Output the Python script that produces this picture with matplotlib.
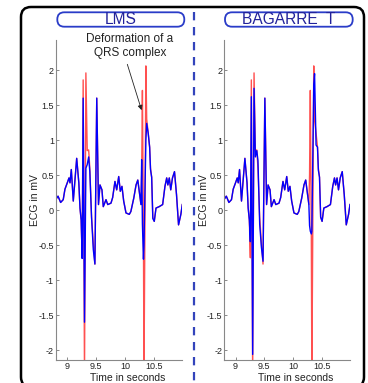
import matplotlib
matplotlib.use('Agg')
import matplotlib.pyplot as plt
from matplotlib.patches import FancyBboxPatch
from matplotlib.lines import Line2D
from matplotlib.transforms import IdentityTransform

plt.rcParams['font.family'] = ['Liberation Sans', 'DejaVu Sans']

# ECG excerpt, values (seconds, mV)
time_s = [8.80, 8.84, 8.885, 8.93, 8.96, 9.00, 9.03, 9.047, 9.07, 9.104,
          9.163, 9.20, 9.22, 9.24, 9.258, 9.275, 9.298, 9.322, 9.345, 9.37,
          9.39, 9.42, 9.45, 9.478, 9.51, 9.54, 9.566, 9.60, 9.623, 9.67,
          9.70, 9.756, 9.785, 9.825, 9.855, 9.89, 9.917, 9.946, 9.976, 10.016,
          10.073, 10.10, 10.15, 10.19, 10.22, 10.245, 10.275, 10.287, 10.30, 10.318,
          10.327, 10.36, 10.374, 10.40, 10.425, 10.44, 10.46, 10.48, 10.505, 10.535,
          10.59, 10.65, 10.69, 10.72, 10.74, 10.765, 10.79, 10.82, 10.855, 10.89,
          10.925, 10.965, 10.99]

# reference (red)
ecg_ref = [0.15, 0.20, 0.11, 0.15, 0.30, 0.39, 0.46, 0.39, 0.58, 0.13,
           0.74, 0.39, 0.03, -0.14, -0.68, 1.86, -2.40, 1.96, 0.85, 0.86,
           0.60, -0.10, -0.47, -0.77, 1.60, 0.08, 0.36, 0.29, 0.05, 0.15,
           0.08, 0.10, 0.18, 0.41, 0.29, 0.48, 0.27, 0.34, 0.13, -0.04,
           -0.06, -0.02, 0.17, 0.36, 0.43, 0.27, 0.08, 0.50, 1.71, -0.40,
           -2.40, 2.06, 1.30, 1.10, 0.90, 0.60, 0.47, -0.10, -0.16, 0.03,
           0.05, 0.08, 0.34, 0.46, 0.36, 0.46, 0.29, 0.46, 0.55, 0.22,
           -0.21, -0.06, 0.08]

# LMS output (blue, left)
ecg_lms = [0.15, 0.20, 0.11, 0.15, 0.30, 0.39, 0.46, 0.39, 0.58, 0.13,
           0.74, 0.39, 0.03, -0.14, -0.69, 1.60, -1.60, 0.60, 0.65, 0.76,
           0.55, -0.10, -0.56, -0.77, 1.60, 0.08, 0.36, 0.29, 0.05, 0.15,
           0.08, 0.10, 0.18, 0.41, 0.29, 0.48, 0.27, 0.34, 0.13, -0.04,
           -0.06, -0.02, 0.17, 0.36, 0.43, 0.27, 0.08, 0.72, -0.20, -0.70,
           -0.50, 1.00, 1.24, 1.10, 0.90, 0.58, 0.47, -0.12, -0.16, 0.03,
           0.05, 0.08, 0.34, 0.46, 0.36, 0.46, 0.29, 0.46, 0.55, 0.22,
           -0.21, -0.06, 0.08]

# BAGARRE T output (blue, right)
ecg_bagarre = [0.15, 0.20, 0.11, 0.15, 0.30, 0.39, 0.46, 0.39, 0.58, 0.13,
               0.74, 0.39, 0.03, -0.14, -0.45, 1.62, -2.06, 1.74, 0.76, 0.85,
               0.71, -0.20, -0.53, -0.73, 1.60, 0.08, 0.36, 0.29, 0.05, 0.15,
               0.08, 0.10, 0.18, 0.41, 0.29, 0.48, 0.27, 0.34, 0.13, -0.04,
               -0.06, -0.02, 0.17, 0.36, 0.43, 0.27, 0.08, -0.22, -0.30, -0.34,
               -0.30, 1.80, 1.95, 0.93, 0.90, 0.57, 0.47, -0.10, -0.16, 0.03,
               0.05, 0.08, 0.34, 0.46, 0.36, 0.46, 0.29, 0.46, 0.55, 0.22,
               -0.21, -0.06, 0.08]

titles = ['LMS', 'BAGARRE  T']
yticks = [-2, -1.5, -1, -0.5, 0, 0.5, 1, 1.5, 2]
xticks = [9, 9.5, 10, 10.5]

W, H = 368, 383
fig = plt.figure(figsize=(W / 100, H / 100), dpi=100)


def rect(x0, y0, x1, y1):
    return [x0 / W, 1 - y1 / H, (x1 - x0) / W, (y1 - y0) / H]


ax1 = fig.add_axes(rect(56, 40, 182.3, 360))
ax2 = fig.add_axes(rect(224.3, 40, 350, 360))

for ax, out in [(ax1, ecg_lms), (ax2, ecg_bagarre)]:
    ax.plot(time_s, ecg_ref, color='#ff5050', lw=1.0)
    ax.plot(time_s, out, color='#0000ff', lw=1.0)
    ax.set_xlim(8.805, 10.99)
    ax.set_ylim(-2.14, 2.43)
    for s in ['top', 'right']:
        ax.spines[s].set_visible(False)
    for s in ['left', 'bottom']:
        ax.spines[s].set_color('#888888')
        ax.spines[s].set_linewidth(0.8)
    ax.set_yticks(yticks)
    ax.set_yticklabels([f'{v:g}' for v in yticks])
    ax.set_xticks(xticks)
    ax.set_xticklabels([f'{v:g}' for v in xticks])
    ax.tick_params(direction='in', length=2.5, width=0.6, colors='#777777',
                   labelcolor='#222222', labelsize=6.5, pad=1.5)
    ax.set_ylabel('ECG in mV', fontsize=7.5, color='#222222')
    ax.yaxis.set_label_coords(-0.125, 0.5)
    ax.set_xlabel('Time in seconds', fontsize=7.5, color='#222222')
    ax.xaxis.set_label_coords(0.57, -0.04)

ax1.annotate('Deformation of a\nQRS complex', xy=(10.30, 1.39),
             xytext=(130, H - 46), textcoords='figure pixels',
             ha='center', va='center', fontsize=8.5, color='#222222',
             arrowprops=dict(arrowstyle='-|>', color='#222222', lw=0.6,
                             mutation_scale=7, relpos=(0.45, 0.0)))

# outer frame
frame = FancyBboxPatch((21, -4), 343, H - 7 + 4,
                       boxstyle='round,pad=0,rounding_size=10',
                       transform=IdentityTransform(), facecolor='none',
                       edgecolor='black', lw=1.8)
fig.add_artist(frame)

# dashed separator
fig.add_artist(Line2D([194, 194], [H - 12, 0], transform=IdentityTransform(),
                      color='#3344bb', lw=1.6, dashes=(3.75, 3.0)))

# title capsules
for (x0, x1), title in zip([(57.3, 184.3), (225, 352.7)], titles):
    box = FancyBboxPatch((x0, H - 26.7), x1 - x0, 14.4,
                         boxstyle='round,pad=0,rounding_size=7',
                         transform=IdentityTransform(), facecolor='white',
                         edgecolor='#2a3cc8', lw=1.3)
    fig.add_artist(box)
    fig.text((x0 + x1) / 2 / W, 1 - 19.8 / H, title, ha='center', va='center',
             fontsize=11.2, color='#22229a')

fig.savefig('out.png', dpi=100)
